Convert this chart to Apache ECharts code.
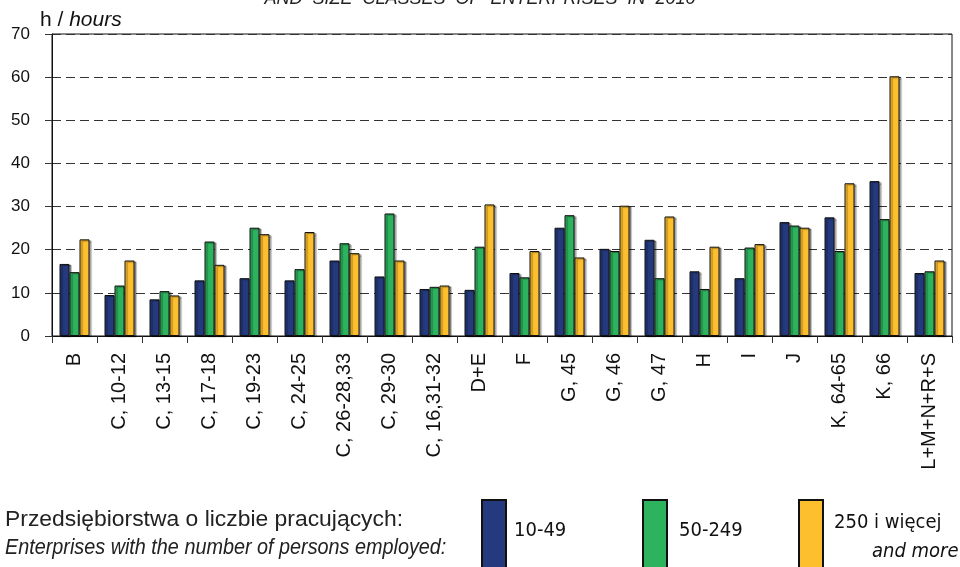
<!DOCTYPE html>
<html>
<head>
<meta charset="UTF-8">
<title>Hours by section and size class</title>
<script src="https://cdn.jsdelivr.net/npm/echarts@6/dist/echarts.min.js"></script>
<style>
  html, body { margin: 0; padding: 0; background: #fff; }
  #chart { width: 960px; height: 567px; }
</style>
</head>
<body>
<div id="chart"></div>
<script>
// sections (NACE) on the x axis
const categories = ['B', 'C, 10-12', 'C, 13-15', 'C, 17-18', 'C, 19-23', 'C, 24-25', 'C, 26-28,33',
  'C, 29-30', 'C, 16,31-32', 'D+E', 'F', 'G, 45', 'G, 46', 'G, 47', 'H', 'I', 'J',
  'K, 64-65', 'K, 66', 'L+M+N+R+S'];

// hours, by size class
const small  = [16.7, 9.5, 8.5, 12.9, 13.4, 12.9, 17.5, 13.8, 10.9, 10.7, 14.6, 25.1, 20.2, 22.3, 15.0, 13.4, 26.4, 27.5, 35.9, 14.6];
const medium = [14.8, 11.7, 10.4, 21.9, 25.1, 15.5, 21.5, 28.4, 11.4, 20.7, 13.6, 28.0, 19.7, 13.4, 10.9, 20.5, 25.6, 19.7, 27.1, 15.0];
const large  = [22.4, 17.5, 9.4, 16.5, 23.6, 24.1, 19.2, 17.5, 11.7, 30.5, 19.7, 18.2, 30.2, 27.7, 20.7, 21.3, 25.1, 35.4, 60.2, 17.5];

const seriesNames = ['10-49', '50-249', '250 i więcej'];
const colors = ['#253a7e', '#2db35d', '#fdbf2d'];

const FONT = 'DejaVu Sans Condensed, Liberation Sans';

const chart = echarts.init(document.getElementById('chart'));

const barStyle = function (c) {
  return {
    color: c,
    borderColor: '#111',
    borderWidth: 1,
    shadowColor: 'rgba(0,0,0,0.4)',
    shadowOffsetX: 2,
    shadowOffsetY: 1,
    shadowBlur: 1
  };
};

const legendBase = {
  orient: 'horizontal',
  top: 499,
  padding: 0,
  itemWidth: 24,
  itemHeight: 82,
  itemGap: 0,
  selectedMode: false,
  icon: 'rect',
  itemStyle: { borderColor: '#111', borderWidth: 2, shadowBlur: 0, shadowOffsetX: 0, shadowOffsetY: 0 }
};

// one-line legend label lifted a little above the centre of the tall swatch
const liftedLabel = function (padLeft) {
  return {
    fontFamily: FONT, fontSize: 20, color: '#111',
    rich: { a: { fontFamily: FONT, fontSize: 20, color: '#111', lineHeight: 24, padding: [0, 0, 20, padLeft] } }
  };
};

const option = {
  animation: false,
  textStyle: { fontFamily: 'Liberation Sans' },
  grid: { left: 52, right: 8, top: 34, bottom: 231, containLabel: false, show: true, borderColor: '#111', borderWidth: 1 },
  graphic: [
    {
      type: 'text', left: 'center', top: -10,
      style: { text: 'AND  SIZE  CLASSES  OF  ENTERPRISES  IN  2010', fontFamily: 'Liberation Sans',
        fontStyle: 'italic', fontSize: 18, fill: '#222' }
    },
    {
      type: 'text', x: 5, y: 520, scaleX: 1.04,
      style: { text: 'Przedsiębiorstwa o liczbie pracujących:', fontFamily: 'Liberation Sans',
        fontSize: 22, fill: '#222', verticalAlign: 'middle' }
    },
    {
      type: 'text', x: 5, y: 548, scaleX: 0.9,
      style: { text: 'Enterprises with the number of persons employed:', fontFamily: 'Liberation Sans',
        fontStyle: 'italic', fontSize: 22, fill: '#222', verticalAlign: 'middle' }
    }
  ],
  legend: [
    Object.assign({}, legendBase, {
      left: 481, data: [seriesNames[0]],
      formatter: '{a|{name}}',
      textStyle: liftedLabel(3)
    }),
    Object.assign({}, legendBase, {
      left: 642, data: [seriesNames[1]],
      formatter: '{a|{name}}',
      textStyle: liftedLabel(7)
    }),
    Object.assign({}, legendBase, {
      left: 798, data: [seriesNames[2]],
      formatter: '{a|250 i więcej}\n{b|and more}',
      textStyle: {
        fontFamily: FONT, fontSize: 20, color: '#111',
        rich: {
          a: { fontFamily: FONT, fontSize: 20, color: '#111', lineHeight: 22, padding: [0, 0, 0, 6] },
          b: { fontFamily: FONT, fontSize: 20, color: '#111', fontStyle: 'italic', lineHeight: 36, padding: [0, 0, 0, 44] }
        }
      }
    })
  ],
  xAxis: {
    type: 'category',
    data: categories,
    boundaryGap: true,
    axisLine: { lineStyle: { color: '#111', width: 1 } },
    axisTick: { show: true, alignWithLabel: false, length: 7, lineStyle: { color: '#333' } },
    axisLabel: { rotate: 90, interval: 0, margin: 17, fontSize: 20, color: '#111', fontFamily: 'Liberation Sans' },
    splitLine: { show: false }
  },
  yAxis: {
    type: 'value',
    min: 0,
    max: 70,
    interval: 10,
    name: '{n|h / }{i|hours}',
    nameLocation: 'end',
    nameGap: 3,
    nameTextStyle: {
      align: 'left',
      verticalAlign: 'bottom',
      padding: [0, 0, 0, -12],
      rich: {
        n: { fontSize: 21, color: '#111', fontFamily: 'Liberation Sans' },
        i: { fontSize: 21, color: '#111', fontStyle: 'italic', fontFamily: 'Liberation Sans' }
      }
    },
    axisLine: { show: true, lineStyle: { color: '#111', width: 1 } },
    axisTick: { show: true, length: 7, lineStyle: { color: '#333' } },
    axisLabel: { margin: 22, fontSize: 17, color: '#111', fontFamily: 'Liberation Sans' },
    splitLine: { show: true, lineStyle: { color: '#333', type: [9, 5], width: 1 } }
  },
  series: [
    { name: seriesNames[0], type: 'bar', data: small, barWidth: 10, barGap: '0%', itemStyle: barStyle(colors[0]) },
    { name: seriesNames[1], type: 'bar', data: medium, barWidth: 10, barGap: '0%', itemStyle: barStyle(colors[1]) },
    { name: seriesNames[2], type: 'bar', data: large, barWidth: 10, barGap: '0%', itemStyle: barStyle(colors[2]) }
  ]
};

chart.setOption(option);
</script>
</body>
</html>
